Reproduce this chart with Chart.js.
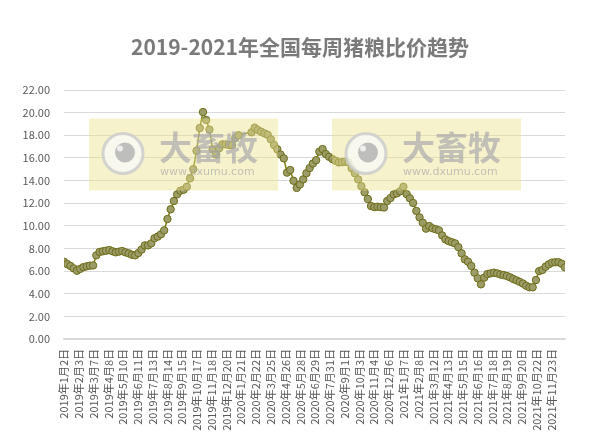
<!DOCTYPE html>
<html>
<head>
<meta charset="utf-8">
<script src="https://cdn.jsdelivr.net/npm/chart.js@4"></script>
<style>
  body { margin: 0; background: #fff; }
  #wrap { width: 614px; height: 439px; position: relative; }
</style>
</head>
<body>
<div id="wrap"><canvas id="myChart"></canvas></div>
<script>
// weekly pig/grain price ratio, first week = 2019-01-02, null = no release that week
var startDate = '2019年1月2日';
var weeklyRatio = [
    6.83, 6.62, 6.45, 6.24, 6.03, 6.2, 6.35, 6.42, 6.48, 6.5,
    7.39, 7.69, 7.75, 7.8, 7.86, 7.75, 7.66, 7.72, 7.77, 7.66,
    7.57, 7.45, 7.39, 7.6, 7.9, 8.27, 8.27, 8.45, 8.9, 9.05,
    9.25, 9.6, 10.6, 11.46, 12.19, 12.78, 13.1, 13.19, 13.45, 14.2,
    15.0, 16.63, 18.64, 20.05, 19.35, 18.5, 16.76, 16.3, 16.85, 17.2,
    17.2, 17.14, 17.14, 17.76, 18.0, null, null, null, 18.26, 18.67,
    18.46, 18.31, 18.17, 18.05, 17.64, 17.14, 16.76, 16.3, 15.96, 14.7,
    14.93, 13.98, 13.35, 13.65, 14.1, 14.64, 15.1, 15.5, 15.8, 16.55,
    16.78, 16.34, 16.1, 15.9, 15.75, 15.6, 15.62, 15.66, 15.6, 15.08,
    14.64, 14.1, 13.5, 12.96, 12.37, 11.75, 11.65, 11.69, 11.65, 11.62,
    12.2, 12.45, 12.78, 12.87, 13.05, 13.45, 12.8, 12.43, 12.02, 11.32,
    10.75, 10.27, 9.75, 9.98, 9.78, 9.7, 9.6, 9.15, 8.8, 8.65,
    8.55, 8.45, 8.12, 7.57, 7.04, 6.83, 6.45, 5.86, 5.36, 4.83,
    5.42, 5.74, 5.8, 5.86, 5.8, 5.7, 5.65, 5.57, 5.45, 5.3,
    5.18, 5.05, 4.9, 4.7, 4.57, 4.57, 5.21, 6.0, 6.1, 6.39,
    6.6, 6.75, 6.78, 6.78, 6.65, 6.33
];
var tickLabels = [
    '2019年1月2日', '2019年2月3日', '2019年3月7日', '2019年4月8日', '2019年5月10日', '2019年6月11日',
    '2019年7月13日', '2019年8月14日', '2019年9月15日', '2019年10月17日', '2019年11月18日', '2019年12月20日',
    '2020年1月21日', '2020年2月22日', '2020年3月25日', '2020年4月26日', '2020年5月28日', '2020年6月29日',
    '2020年7月31日', '2020年9月1日', '2020年10月3日', '2020年11月4日', '2020年12月6日',
    '2021年1月7日', '2021年2月8日', '2021年3月12日', '2021年4月13日', '2021年5月15日', '2021年6月16日',
    '2021年7月18日', '2021年8月19日', '2021年9月20日', '2021年10月22日', '2021年11月23日'
];
var yTicks = [0, 2, 4, 6, 8, 10, 12, 14, 16, 18, 20, 22];
var chartTitle = '2019-2021年全国每周猪粮比价趋势';
var wmName = '大畜牧';
var wmSite = 'www.dxumu.com';

function parseCn(s) {
    var m = s.match(/(\d+)年(\d+)月(\d+)日/);
    return Date.UTC(+m[1], +m[2] - 1, +m[3]);
}
var day0 = parseCn(startDate);
var tickDays = tickLabels.map(function (s) { return Math.round((parseCn(s) - day0) / 86400000); });

var pts = weeklyRatio.map(function (v, i) { return { x: i * 7, y: v }; });

var FONT = '"Noto Sans CJK SC", "Noto Sans", sans-serif';

// title drawn by hand so it can sit centred on the whole picture
var titlePlugin = {
    id: 'titlePlugin',
    afterDraw: function (chart) {
        var ctx = chart.ctx;
        ctx.save();
        ctx.fillStyle = '#7a7a7a';
        ctx.font = 'bold 21px ' + FONT;
        ctx.textAlign = 'center';
        ctx.textBaseline = 'middle';
        ctx.fillText(chartTitle, 300, 47);
        ctx.restore();
    }
};

// the two watermark stamps over the plot
var watermark = {
    id: 'watermark',
    afterDatasetsDraw: function (chart) {
        var ctx = chart.ctx;
        [89, 332].forEach(function (x0) {
            var y0 = 118.5;
            ctx.save();
            ctx.fillStyle = 'rgba(236,226,140,0.45)';
            ctx.fillRect(x0, y0, 189, 72);
            // eye logo
            var cx = x0 + 34, cy = y0 + 35;
            ctx.beginPath();
            ctx.arc(cx, cy, 20, 0, Math.PI * 2);
            ctx.fillStyle = 'rgba(250,250,248,0.8)';
            ctx.fill();
            ctx.lineWidth = 3;
            ctx.strokeStyle = 'rgba(205,205,205,0.85)';
            ctx.stroke();
            ctx.beginPath();
            ctx.arc(cx + 2, cy - 1, 10, 0, Math.PI * 2);
            ctx.fillStyle = 'rgba(180,180,180,0.85)';
            ctx.fill();
            ctx.beginPath();
            ctx.arc(cx - 3, cy - 5, 3, 0, Math.PI * 2);
            ctx.fillStyle = 'rgba(240,240,240,0.95)';
            ctx.fill();
            // name + site
            ctx.fillStyle = 'rgba(165,165,170,0.65)';
            ctx.font = 'bold 33px ' + FONT;
            ctx.textBaseline = 'middle';
            ctx.textAlign = 'left';
            ctx.fillText(wmName, x0 + 70, y0 + 29);
            ctx.font = '11px "DejaVu Sans", sans-serif';
            ctx.fillText(wmSite, x0 + 71, y0 + 54);
            ctx.restore();
        });
    }
};

const config = {
    type: 'line',
    data: {
        datasets: [{
            label: '猪粮比价',
            data: pts,
            borderColor: '#7d7d10',
            borderWidth: 1.5,
            backgroundColor: '#9c9c68',
            pointBackgroundColor: '#9c9c68',
            pointBorderColor: '#6c6c18',
            pointBorderWidth: 1,
            pointRadius: 3.7,
            spanGaps: true,
            tension: 0
        }]
    },
    options: {
        responsive: true, maintainAspectRatio: false,
        animation: false,
        layout: { padding: { top: 90, right: 49, left: 10, bottom: 0 } },
        scales: {
            x: {
                type: 'linear',
                min: 0,
                max: (weeklyRatio.length - 1) * 7,
                afterBuildTicks: function (scale) {
                    scale.ticks = tickDays.map(function (d) { return { value: d }; });
                },
                afterFit: function (scale) { scale.height = 100; },
                grid: { display: false, drawTicks: false },
                border: { display: true, color: '#d9d9d9', width: 1.5 },
                ticks: {
                    autoSkip: false,
                    minRotation: 90, maxRotation: 90,
                    padding: 10,
                    color: '#595959',
                    font: { size: 11, family: FONT },
                    callback: function (v, i) { return tickLabels[i]; }
                }
            },
            y: {
                min: 0, max: 22,
                afterBuildTicks: function (scale) {
                    scale.ticks = yTicks.map(function (v) { return { value: v }; });
                },
                afterFit: function (scale) { scale.width = 54; },
                grid: { color: '#d9d9d9', lineWidth: 1, drawTicks: false },
                border: { display: false },
                ticks: {
                    padding: 14,
                    color: '#595959',
                    font: { size: 11, family: FONT },
                    callback: function (v) { return v.toFixed(2); }
                }
            }
        },
        plugins: {
            legend: { display: false },
            tooltip: { enabled: false },
            title: { display: false }
        }
    },
    plugins: [watermark, titlePlugin]
};

var myChart = new Chart(document.getElementById('myChart'), config);
</script>
</body>
</html>
